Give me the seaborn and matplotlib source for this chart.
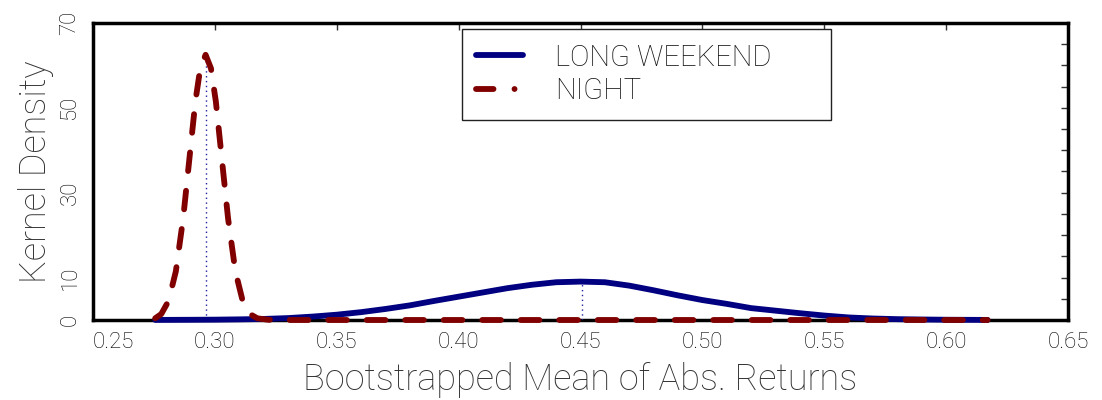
import matplotlib
matplotlib.use("Agg")
import matplotlib.pyplot as plt
from matplotlib.lines import Line2D
import pandas as pd
import seaborn as sns

# ---- data ----
lw_x = [0.2755, 0.29, 0.30, 0.31, 0.32, 0.33, 0.34, 0.35, 0.36, 0.37, 0.38, 0.39,
        0.40, 0.41, 0.42, 0.43, 0.44, 0.45, 0.46, 0.47, 0.48, 0.49, 0.50, 0.51,
        0.52, 0.53, 0.54, 0.55, 0.56, 0.57, 0.58, 0.59, 0.60, 0.617]
lw_y = [0.02, 0.05, 0.08, 0.15, 0.25, 0.45, 0.8, 1.25, 1.85, 2.6, 3.45, 4.5,
        5.5, 6.5, 7.5, 8.3, 8.9, 9.05, 8.9, 8.1, 7.0, 5.8, 4.7, 3.8,
        2.8, 2.2, 1.6, 1.05, 0.6, 0.35, 0.2, 0.12, 0.06, 0.02]

night_x = [0.2755, 0.278, 0.281, 0.284, 0.287, 0.290, 0.292, 0.294, 0.2962,
           0.2984, 0.3004, 0.3024, 0.3054, 0.3084, 0.3114, 0.3144, 0.3174,
           0.322, 0.33, 0.617]
night_y = [0.4, 1.4, 4.5, 11.5, 24.0, 40.5, 51.5, 59.3, 62.5,
           59.3, 51.5, 40.5, 24.0, 11.5, 4.5, 1.4, 0.4,
           0.05, 0.0, 0.0]

series_names = ["LONG WEEKEND", "NIGHT"]
mean_x = [0.4505, 0.2962]
mean_height = [9.05, 62.5]

x_ticks = [0.25, 0.30, 0.35, 0.40, 0.45, 0.50, 0.55, 0.60, 0.65]
x_tick_labels = ["0.25", "0.30", "0.35", "0.40", "0.45", "0.50", "0.55", "0.60", "0.65"]
y_ticks = [0, 5, 10, 15, 20, 25, 30, 35, 40, 45, 50, 55, 60, 65, 70]
y_tick_labels = ["0", "", "10", "", "", "", "30", "", "", "", "50", "", "", "", "70"]

x_label = "Bootstrapped Mean of Abs. Returns"
y_label = "Kernel Density"

NAVY = "#000080"
DARKRED = "#800000"

sns.set_style("white")
plt.rcParams["font.family"] = ["Roboto", "DejaVu Sans"]
plt.rcParams["font.weight"] = "light"
plt.rcParams["axes.labelweight"] = "light"

fig = plt.figure(figsize=(11.02, 4.0), dpi=100)
ax = fig.add_axes([93 / 1102, 80 / 400, 975 / 1102, 297 / 400])

df_lw = pd.DataFrame({"x": lw_x, "y": lw_y})
df_n = pd.DataFrame({"x": night_x, "y": night_y})

sns.lineplot(data=df_lw, x="x", y="y", color=NAVY, lw=4.2, ax=ax,
             solid_capstyle="round", clip_on=False, zorder=3)
sns.lineplot(data=df_n, x="x", y="y", color=DARKRED, lw=4.2, ax=ax,
             linestyle=(0, (3.2, 3.4)), dash_capstyle="round",
             clip_on=False, zorder=4)

for mx, mh in zip(mean_x, mean_height):
    ax.plot([mx, mx], [0, mh], color="#2020a0", lw=1.0,
            linestyle=(0, (1, 2.5)), zorder=2.8)

ax.set_xlim(0.25, 0.65)
ax.set_ylim(0, 70)
ax.set_xticks(x_ticks)
ax.set_xticklabels(x_tick_labels)
ax.set_yticks(y_ticks)
ax.set_yticklabels(y_tick_labels, rotation=90, va="center")

ax.tick_params(axis="both", direction="in", length=5, width=1, color="#333333",
               top=True, right=True, labelsize=16, labelcolor="#000000")
ax.tick_params(axis="x", pad=9)
ax.tick_params(axis="y", pad=9)
first = ax.get_xticklabels()[0]
first.set_ha("left")

for s in ax.spines.values():
    s.set_color("black")
    s.set_linewidth(2.5)
    s.set_visible(True)

ax.set_xlabel(x_label, fontsize=26, color="#333333", labelpad=6)
ax.set_ylabel(y_label, fontsize=26, color="#333333", labelpad=4)

h1 = Line2D([], [], color=NAVY, lw=4.2, solid_capstyle="round")
h2 = Line2D([], [], color=DARKRED, lw=4.2, linestyle=(0, (3, 3.6, 0.01, 3.6)),
            dash_capstyle="round")
leg = ax.legend([h1, h2], series_names, loc="upper left",
                bbox_to_anchor=(0.378, 0.0, 0.3785, 0.98), mode="expand",
                frameon=True, fancybox=False,
                edgecolor="#222222", framealpha=1, fontsize=21,
                handlelength=1.6, handletextpad=1.1, borderpad=0.5,
                labelspacing=0.2, borderaxespad=0)
leg.get_frame().set_linewidth(1.0)
for t in leg.get_texts():
    t.set_color("#111111")

fig.savefig("out.png", dpi=100)
